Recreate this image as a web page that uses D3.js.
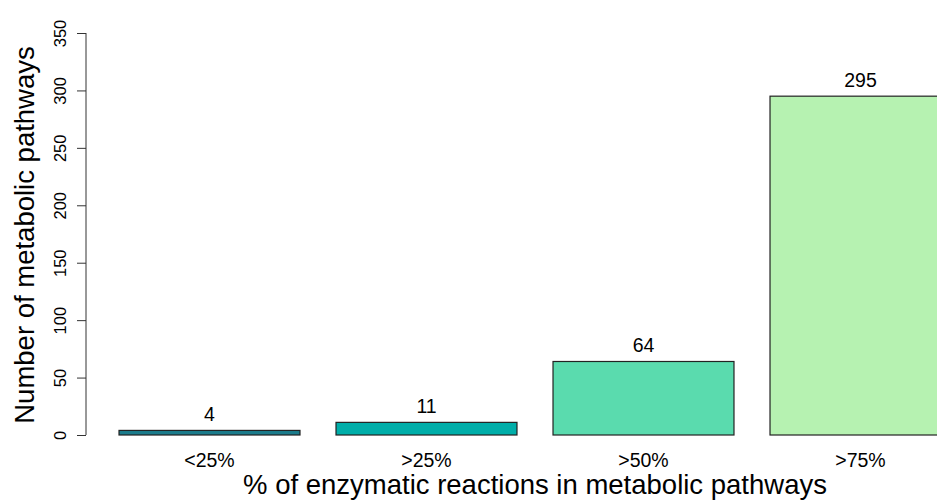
<!DOCTYPE html>
<html><head><meta charset="utf-8">
<script src="https://cdn.jsdelivr.net/npm/d3@7"></script>
<style>body{margin:0;background:#fff}svg{display:block}text{font-family:"Liberation Sans",Arial,sans-serif;fill:#000}</style>
</head><body>
<svg id="c" width="937" height="502"></svg>
<script>
const categories = ["<25%", ">25%", ">50%", ">75%"];
const values = [4, 11, 64, 295];
const colors = ["#1b7b8b", "#00aea9", "#5adbae", "#b6f2b1"];
const yTicks = [0, 50, 100, 150, 200, 250, 300, 350];

const svg = d3.select("#c");
const y = d3.scaleLinear().domain([0, 350]).range([435, 33]);
const x = d3.scaleBand().domain(categories).range([101, 969]).paddingInner(0.166).paddingOuter(0.083);

// bars
svg.selectAll("rect.bar").data(values).enter().append("rect")
  .attr("x", (d, i) => x(categories[i]))
  .attr("width", x.bandwidth())
  .attr("y", d => y(d))
  .attr("height", d => y(0) - y(d))
  .attr("fill", (d, i) => colors[i])
  .attr("stroke", "#222").attr("stroke-width", 1.2);

// value labels
svg.selectAll("text.val").data(values).enter().append("text")
  .attr("x", (d, i) => x(categories[i]) + x.bandwidth() / 2)
  .attr("y", d => y(d) - 9)
  .attr("text-anchor", "middle").attr("font-size", 19.5).text(d => d);

// category labels
svg.selectAll("text.cat").data(categories).enter().append("text")
  .attr("x", d => x(d) + x.bandwidth() / 2)
  .attr("y", 467).attr("text-anchor", "middle").attr("font-size", 19.5).text(d => d);

// y axis
const ax = svg.append("g").attr("transform", "translate(86,0)")
  .call(d3.axisLeft(y).tickValues(yTicks).tickSize(9).tickPadding(0).tickFormat(d3.format("d")));
ax.select(".domain").attr("stroke", "#333").attr("d", `M0,${y(0)}V${y(350)}`);
ax.selectAll(".tick line").attr("stroke", "#333");
ax.selectAll(".tick text").remove();
ax.selectAll(".tick").append("text")
  .attr("transform", "translate(-20,0) rotate(-90)")
  .attr("text-anchor", "middle")
  .attr("font-size", 16.5).attr("fill", "#000").attr("font-family", '"Liberation Sans",Arial,sans-serif')
  .text(d => d);

// axis titles
svg.append("text").attr("x", 535).attr("y", 494).attr("text-anchor", "middle")
  .attr("font-size", 27.5).text("% of enzymatic reactions in metabolic pathways");
svg.append("text").attr("transform", "translate(34,235) rotate(-90)").attr("text-anchor", "middle")
  .attr("font-size", 27.5).text("Number of metabolic pathways");
</script>
</body></html>
